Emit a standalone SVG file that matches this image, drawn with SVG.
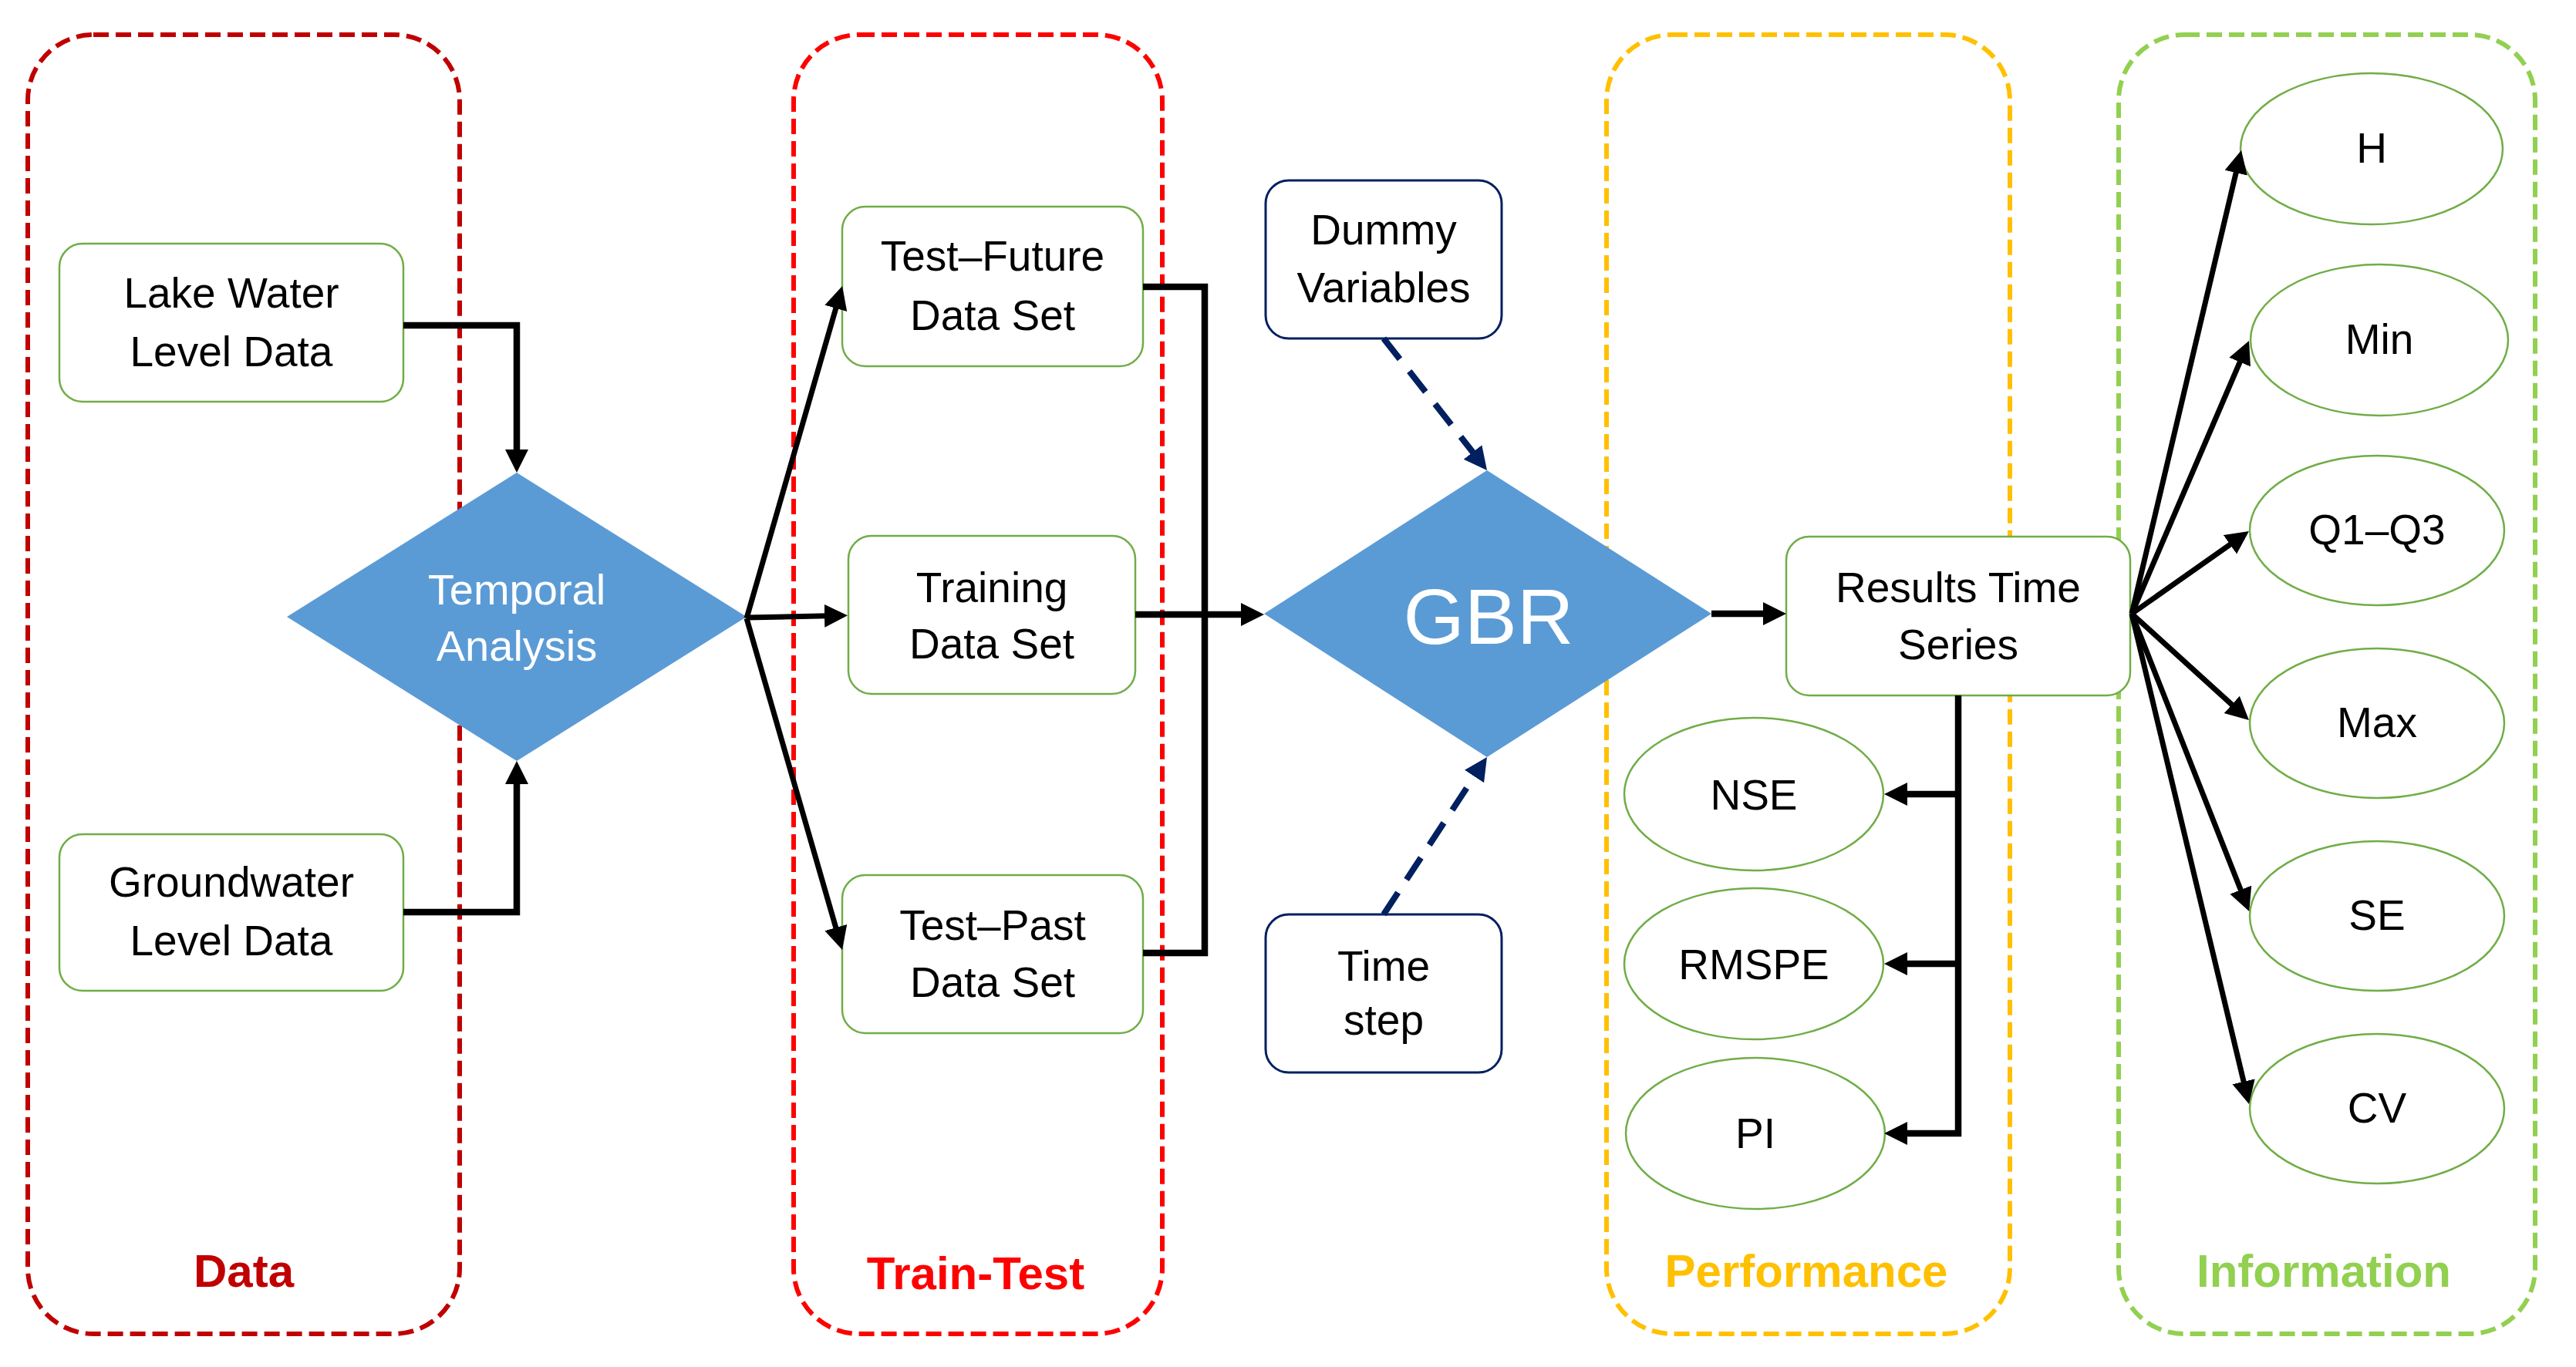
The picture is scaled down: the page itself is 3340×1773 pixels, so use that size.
<svg xmlns="http://www.w3.org/2000/svg" width="3340" height="1773" viewBox="0 0 3340 1773">
<defs>
<style>
.grp{fill:none;stroke-width:6;stroke-dasharray:20 9}
.glabel{font-family:"Liberation Sans",Arial,sans-serif;font-weight:bold;font-size:60px;text-anchor:middle}
.box{fill:#fff;stroke:#70AD47;stroke-width:2.5}
.nbox{fill:#fff;stroke:#002060;stroke-width:3}
.ell{fill:#fff;stroke:#70AD47;stroke-width:2.5}
.dia{fill:#5B9BD5;stroke:none}
.t{font-family:"Liberation Sans",Arial,sans-serif;font-size:55px;fill:#000;text-anchor:middle}
.tw{font-family:"Liberation Sans",Arial,sans-serif;font-size:56px;fill:#fff;text-anchor:middle}
.c{fill:none;stroke:#000;stroke-width:8.5}
.cs{fill:none;stroke:#000;stroke-width:7}
.cd{fill:none;stroke:#002060;stroke-width:8;stroke-dasharray:34 20}
</style>
<marker id="ah" markerUnits="userSpaceOnUse" markerWidth="32" markerHeight="32" refX="16" refY="15" orient="auto">
<path d="M0,0 L30,15 L0,30 z" fill="#000"/>
</marker>
<marker id="ahn" markerUnits="userSpaceOnUse" markerWidth="32" markerHeight="32" refX="16" refY="15" orient="auto">
<path d="M0,0 L30,15 L0,30 z" fill="#002060"/>
</marker>
</defs>
<rect width="3340" height="1773" fill="#fff"/>

<g id="groups">
<g id="group-data">
<rect class="grp" x="36" y="45" width="560" height="1685" rx="85" stroke="#C00000"/>
<text class="glabel" x="316" y="1669" fill="#C00000">Data</text>
</g>
<g id="group-traintest">
<rect class="grp" x="1029" y="45" width="478" height="1685" rx="85" stroke="#FF0000"/>
<text class="glabel" x="1265" y="1672" fill="#FF0000">Train-Test</text>
</g>
<g id="group-performance">
<rect class="grp" x="2083" y="45" width="523" height="1685" rx="85" stroke="#FFC000"/>
<text class="glabel" x="2342" y="1669" fill="#FFC000">Performance</text>
</g>
<g id="group-information">
<rect class="grp" x="2747" y="45" width="540" height="1685" rx="85" stroke="#92D050"/>
<text class="glabel" x="3013" y="1669" fill="#92D050">Information</text>
</g>
</g>

<g id="node-lake">
<rect class="box" x="77" y="316" width="446" height="205" rx="30"/>
<text class="t" x="300" y="399">Lake Water</text>
<text class="t" x="300" y="475">Level Data</text>
</g>
<g id="node-groundwater">
<rect class="box" x="77" y="1082" width="446" height="203" rx="30"/>
<text class="t" x="300" y="1163">Groundwater</text>
<text class="t" x="300" y="1239">Level Data</text>
</g>
<g id="node-temporal">
<polygon class="dia" points="670,613 968,800 670,987 372,800"/>
<text class="tw" x="670" y="784">Temporal</text>
<text class="tw" x="670" y="857">Analysis</text>
</g>
<g id="node-testfuture">
<rect class="box" x="1092" y="268" width="390" height="207" rx="30"/>
<text class="t" x="1287" y="351">Test–Future</text>
<text class="t" x="1287" y="428">Data Set</text>
</g>
<g id="node-training">
<rect class="box" x="1100" y="695" width="372" height="205" rx="30"/>
<text class="t" x="1286" y="781">Training</text>
<text class="t" x="1286" y="854">Data Set</text>
</g>
<g id="node-testpast">
<rect class="box" x="1092" y="1135" width="390" height="205" rx="30"/>
<text class="t" x="1287" y="1219">Test–Past</text>
<text class="t" x="1287" y="1293">Data Set</text>
</g>
<g id="node-dummy">
<rect class="nbox" x="1641" y="234" width="306" height="205" rx="30"/>
<text class="t" x="1794" y="317">Dummy</text>
<text class="t" x="1794" y="392">Variables</text>
</g>
<g id="node-timestep">
<rect class="nbox" x="1641" y="1186" width="306" height="205" rx="30"/>
<text class="t" x="1794" y="1272">Time</text>
<text class="t" x="1794" y="1342">step</text>
</g>
<g id="node-gbr">
<polygon class="dia" points="1928,610 2219,796 1928,982 1639,796"/>
<text class="tw" x="1930" y="835" style="font-size:102px">GBR</text>
</g>
<g id="node-results">
<rect class="box" x="2316" y="696" width="446" height="206" rx="30"/>
<text class="t" x="2539" y="781">Results Time</text>
<text class="t" x="2539" y="855">Series</text>
</g>
<g id="node-nse">
<ellipse class="ell" cx="2274" cy="1030" rx="168" ry="99"/>
<text class="t" x="2274" y="1050">NSE</text>
</g>
<g id="node-rmspe">
<ellipse class="ell" cx="2274" cy="1250" rx="168" ry="98"/>
<text class="t" x="2274" y="1270">RMSPE</text>
</g>
<g id="node-pi">
<ellipse class="ell" cx="2276" cy="1470" rx="168" ry="98"/>
<text class="t" x="2276" y="1489">PI</text>
</g>
<g id="node-h">
<ellipse class="ell" cx="3075" cy="193" rx="170" ry="98"/>
<text class="t" x="3075" y="211">H</text>
</g>
<g id="node-min">
<ellipse class="ell" cx="3085" cy="441" rx="167" ry="98"/>
<text class="t" x="3085" y="459">Min</text>
</g>
<g id="node-q1q3">
<ellipse class="ell" cx="3082" cy="688" rx="165" ry="97"/>
<text class="t" x="3082" y="706">Q1–Q3</text>
</g>
<g id="node-max">
<ellipse class="ell" cx="3082" cy="938" rx="165" ry="97"/>
<text class="t" x="3082" y="956">Max</text>
</g>
<g id="node-se">
<ellipse class="ell" cx="3082" cy="1188" rx="165" ry="97"/>
<text class="t" x="3082" y="1206">SE</text>
</g>
<g id="node-cv">
<ellipse class="ell" cx="3082" cy="1438" rx="165" ry="97"/>
<text class="t" x="3082" y="1456">CV</text>
</g>

<g id="connectors">
<path class="c" d="M523,422 H670 V599" marker-end="url(#ah)"/>
<path class="c" d="M523,1183 H670 V1001" marker-end="url(#ah)"/>
<path class="cs" d="M968,802 L1088.2,384.5" marker-end="url(#ah)"/>
<path class="cs" d="M968,801 L1085,798.5" marker-end="url(#ah)"/>
<path class="cs" d="M968,802 L1088.2,1218.5" marker-end="url(#ah)"/>
<path class="c" d="M1482,372 H1562 V1236 H1482"/>
<path class="c" d="M1472,797 H1625" marker-end="url(#ah)"/>
<path class="cd" d="M1794,439 L1919.4,599" marker-end="url(#ahn)"/>
<path class="cd" d="M1794,1186 L1920.3,993.7" marker-end="url(#ahn)"/>
<path class="c" d="M2219,796 H2302" marker-end="url(#ah)"/>
<path class="c" d="M2539,902 V1470 H2457" marker-end="url(#ah)"/>
<path class="c" d="M2539,1030 H2457" marker-end="url(#ah)"/>
<path class="c" d="M2539,1250 H2457" marker-end="url(#ah)"/>
<path class="cs" d="M2764,796 L2902.8,208.6" marker-end="url(#ah)"/>
<path class="cs" d="M2764,796 L2910.5,454.9" marker-end="url(#ah)"/>
<path class="cs" d="M2764,796 L2904.5,697.1" marker-end="url(#ah)"/>
<path class="cs" d="M2764,796 L2905.6,924.6" marker-end="url(#ah)"/>
<path class="cs" d="M2764,796 L2911.1,1169" marker-end="url(#ah)"/>
<path class="cs" d="M2764,796 L2912.8,1418.4" marker-end="url(#ah)"/>
</g>
</svg>
